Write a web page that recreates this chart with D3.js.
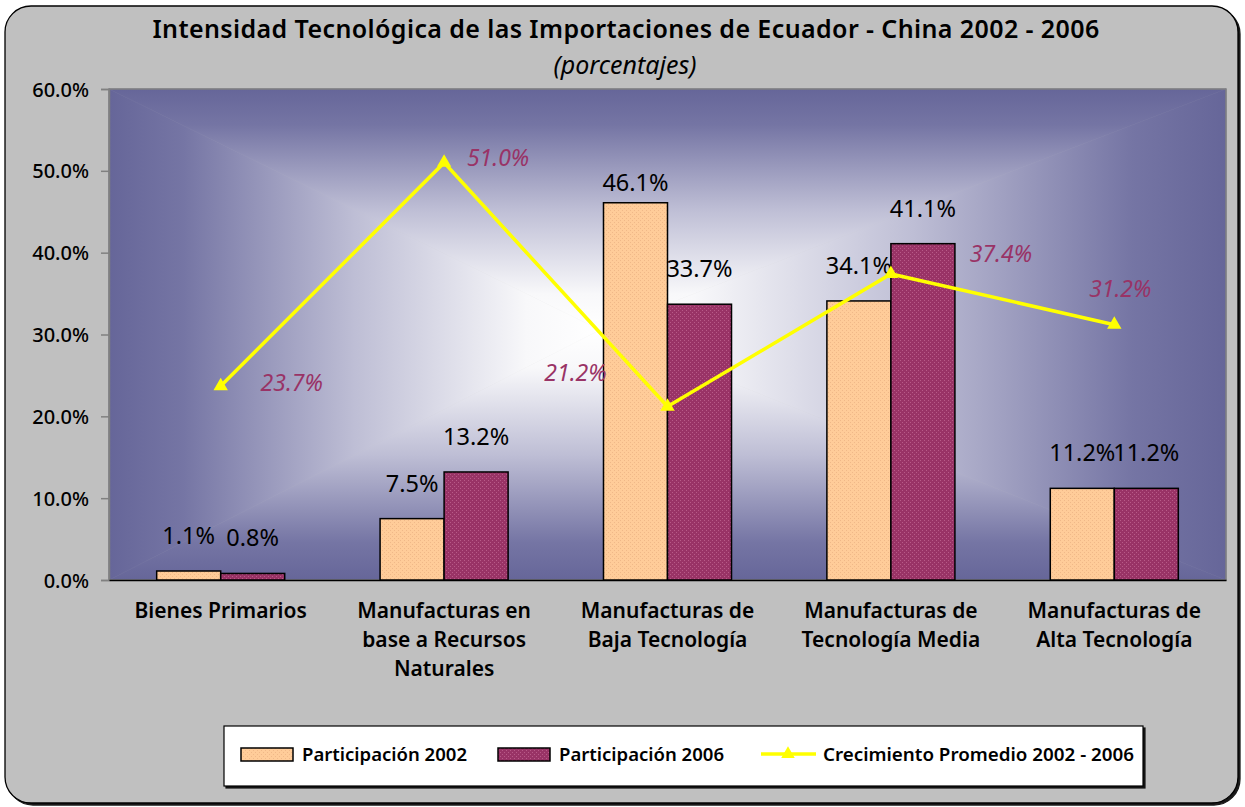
<!DOCTYPE html>
<html>
<head>
<meta charset="utf-8">
<script src="https://cdn.jsdelivr.net/npm/d3@7"></script>
<style>
  html, body { margin: 0; padding: 0; background: #fff; }
</style>
</head>
<body>
<script>
const categories = [
  ["Bienes Primarios"],
  ["Manufacturas en", "base a Recursos", "Naturales"],
  ["Manufacturas de", "Baja Tecnología"],
  ["Manufacturas de", "Tecnología Media"],
  ["Manufacturas de", "Alta Tecnología"]
];
const part2002 = [1.1, 7.5, 46.1, 34.1, 11.2];
const part2006 = [0.8, 13.2, 33.7, 41.1, 11.2];
const growth = [23.7, 51.0, 21.2, 37.4, 31.2];
const yTicks = [0, 10, 20, 30, 40, 50, 60];
const seriesNames = ["Participación 2002", "Participación 2006", "Crecimiento Promedio 2002 - 2006"];

const width = 1245;
const height = 807;
const plot = { left: 109, right: 1226, top: 89, bottom: 580 };
const font = "'Noto Sans', 'Open Sans', sans-serif";
const colors = {
  frame: "#C0C0C0",
  p2002: "#FFCC99",
  p2006: "#993366",
  line: "#FFFF00",
  growthLabel: "#993366",
  axis: "#808080"
};

const svg = d3.select("body").append("svg")
  .attr("width", width).attr("height", height)
  .attr("viewBox", `0 0 ${width} ${height}`);

const defs = svg.append("defs");

function dotPattern(id, base, dot) {
  const p = defs.append("pattern").attr("id", id)
    .attr("width", 4).attr("height", 4).attr("patternUnits", "userSpaceOnUse");
  p.append("rect").attr("width", 4).attr("height", 4).attr("fill", base);
  p.append("rect").attr("x", 0).attr("y", 0).attr("width", 1).attr("height", 1).attr("fill", dot);
  p.append("rect").attr("x", 2).attr("y", 2).attr("width", 1).attr("height", 1).attr("fill", dot);
}
dotPattern("pat2002", colors.p2002, "#F0B888");
dotPattern("pat2006", colors.p2006, "#B85A88");

const shadow = defs.append("filter").attr("id", "shadow");
shadow.append("feDropShadow").attr("dx", 2).attr("dy", 2).attr("stdDeviation", 0.6)
  .attr("flood-color", "#000").attr("flood-opacity", 0.9);

// outer frame
svg.append("rect").attr("x", 5).attr("y", 6).attr("width", 1233).attr("height", 797)
  .attr("rx", 26).attr("fill", colors.frame).attr("stroke", "#000").attr("stroke-width", 1.3)
  .attr("filter", "url(#shadow)");

// title
svg.append("text").attr("x", 626).attr("y", 38).attr("text-anchor", "middle")
  .attr("font-family", font).attr("font-size", 25).attr("font-weight", 600)
  .attr("letter-spacing", 0.4)
  .text("Intensidad Tecnológica de las Importaciones de Ecuador - China 2002 - 2006");
svg.append("text").attr("x", 625).attr("y", 74).attr("text-anchor", "middle")
  .attr("font-family", font).attr("font-size", 25).attr("font-style", "italic")
  .text("(porcentajes)");

const x = d3.scaleBand().domain(d3.range(categories.length))
  .range([plot.left, plot.right]).paddingInner(0).paddingOuter(0);
const xs = d3.scaleBand().domain([0, 1]).range([0, x.bandwidth()])
  .paddingInner(0).paddingOuter(0.745);
const y = d3.scaleLinear().domain([0, 60]).range([plot.bottom, plot.top]);

// plot area: rectangular "from center" gradient built from four triangles
const gc = { x: 600, y: 330 };
const corners = [
  [plot.left, plot.top], [plot.right, plot.top],
  [plot.right, plot.bottom], [plot.left, plot.bottom]
];
const edgeTargets = [
  [gc.x, plot.top], [plot.right, gc.y], [gc.x, plot.bottom], [plot.left, gc.y]
];
const stops = [[0, "#FFFFFF"], [0.15, "#F8F8FA"], [0.5, "#BEBED5"], [0.85, "#7575A4"], [1, "#666699"]];
edgeTargets.forEach((t, k) => {
  const lgd = defs.append("linearGradient").attr("id", "side" + k)
    .attr("gradientUnits", "userSpaceOnUse")
    .attr("x1", gc.x).attr("y1", gc.y).attr("x2", t[0]).attr("y2", t[1]);
  stops.forEach(s => lgd.append("stop").attr("offset", s[0]).attr("stop-color", s[1]));
  const a = corners[k], b = corners[(k + 1) % 4];
  svg.append("polygon")
    .attr("points", [[gc.x, gc.y], a, b].map(p => p.join(",")).join(" "))
    .attr("fill", `url(#side${k})`).attr("stroke", `url(#side${k})`).attr("stroke-width", 0.6);
});
svg.append("rect").attr("x", plot.left).attr("y", plot.top)
  .attr("width", plot.right - plot.left).attr("height", plot.bottom - plot.top)
  .attr("fill", "none").attr("stroke", colors.axis).attr("stroke-width", 1.5);

// y axis
svg.append("g").attr("transform", `translate(${plot.left},0)`)
  .call(d3.axisLeft(y).tickValues(yTicks).tickSize(8).tickPadding(12)
    .tickFormat(d => d.toFixed(1) + "%"))
  .call(g => g.select(".domain").attr("stroke", colors.axis).attr("stroke-width", 1.5))
  .call(g => g.selectAll(".tick line").attr("stroke", colors.axis).attr("stroke-width", 1.5))
  .call(g => g.selectAll("text").attr("font-family", font).attr("font-size", 20)
    .attr("font-weight", 500).attr("fill", "#000").attr("dy", "0.35em"));

// x axis
svg.append("g").attr("transform", `translate(0,${plot.bottom})`)
  .call(d3.axisBottom(x).tickSize(0).tickFormat(""))
  .call(g => g.select(".domain").attr("stroke", "#000").attr("stroke-width", 1.5));
categories.forEach((lines, i) => {
  const t = svg.append("text").attr("x", x(i) + x.bandwidth() / 2).attr("y", 618)
    .attr("text-anchor", "middle").attr("font-family", font).attr("font-size", 21)
    .attr("font-weight", 600).attr("fill", "#000");
  lines.forEach((l, k) => t.append("tspan").attr("x", x(i) + x.bandwidth() / 2)
    .attr("dy", k === 0 ? 0 : 29).text(l));
});

// bars
const pats = ["url(#pat2002)", "url(#pat2006)"];
categories.forEach((c, i) => {
  [part2002[i], part2006[i]].forEach((v, s) => {
    svg.append("rect")
      .attr("x", x(i) + xs(s)).attr("y", y(v))
      .attr("width", xs.bandwidth()).attr("height", y(0) - y(v))
      .attr("fill", pats[s]).attr("stroke", "#000").attr("stroke-width", 1.5);
    const ly = i === 2 && s === 0 ? y(v) - 12 : y(v) - 27;
    svg.append("text").attr("x", x(i) + xs(s) + xs.bandwidth() / 2).attr("y", ly)
      .attr("text-anchor", "middle").attr("font-family", font).attr("font-size", 23.5)
      .attr("fill", "#000").text(v.toFixed(1) + "%");
  });
});

// growth line
const cx = i => x(i) + x.bandwidth() / 2;
svg.append("path").datum(growth)
  .attr("d", d3.line().x((d, i) => cx(i)).y(d => y(d)))
  .attr("fill", "none").attr("stroke", colors.line).attr("stroke-width", 3.5);
svg.append("g").selectAll("path").data(growth).join("path")
  .attr("transform", (d, i) => `translate(${cx(i)},${y(d)})`)
  .attr("d", d3.symbol(d3.symbolTriangle, 90))
  .attr("fill", colors.line);

const growthOffsets = [[71, -3], [54, -5], [-92, -34], [110, -20], [6, -36]];
svg.append("g").selectAll("text").data(growth).join("text")
  .attr("x", (d, i) => cx(i) + growthOffsets[i][0])
  .attr("y", (d, i) => y(d) + growthOffsets[i][1] + 8)
  .attr("text-anchor", "middle")
  .attr("font-family", font).attr("font-size", 23).attr("font-style", "italic")
  .attr("fill", colors.growthLabel).text(d => d.toFixed(1) + "%");

// legend
const lg = svg.append("g").attr("transform", "translate(224,726)");
lg.append("rect").attr("width", 919).attr("height", 60).attr("fill", "#fff")
  .attr("stroke", "#000").attr("stroke-width", 1.2).attr("filter", "url(#shadow)");
const items = [
  { x: 17, w: 165, label: seriesNames[0], kind: "bar", fill: pats[0] },
  { x: 274, w: 165, label: seriesNames[1], kind: "bar", fill: pats[1] },
  { x: 537, w: 311, label: seriesNames[2], kind: "line" }
];
items.forEach(it => {
  const g = lg.append("g").attr("transform", `translate(${it.x},0)`);
  if (it.kind === "bar") {
    g.append("rect").attr("x", 0).attr("y", 22).attr("width", 52).attr("height", 13)
      .attr("fill", it.fill).attr("stroke", "#000").attr("stroke-width", 1.5);
  } else {
    g.append("line").attr("x1", 0).attr("x2", 55).attr("y1", 28).attr("y2", 28)
      .attr("stroke", colors.line).attr("stroke-width", 3.5);
    g.append("path").attr("transform", "translate(27,28)")
      .attr("d", d3.symbol(d3.symbolTriangle, 80)).attr("fill", colors.line);
  }
  g.append("text").attr("x", it.kind === "bar" ? 61 : 62).attr("y", 35)
    .attr("font-family", font).attr("font-size", 18).attr("font-weight", 600)
    .attr("textLength", it.w).attr("lengthAdjust", "spacingAndGlyphs").text(it.label);
});
</script>
</body>
</html>
